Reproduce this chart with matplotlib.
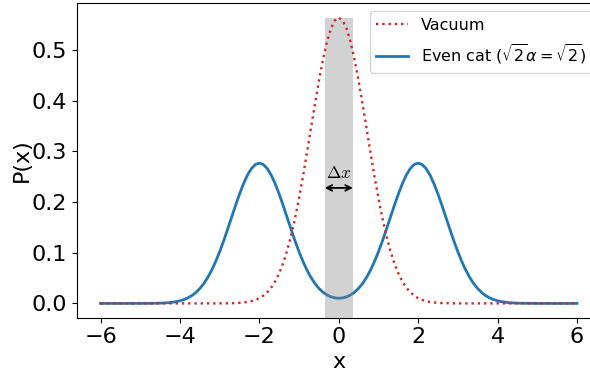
import matplotlib
matplotlib.use("Agg")
import matplotlib.pyplot as plt

# x grid (step 0.1 from -6 to 6)
x_vals = [round(-6 + 0.1 * i, 1) for i in range(121)]

# half profiles for x = 0.0, 0.1, ..., 6.0 (both curves are symmetric)
vacuum_half = [0.5642, 0.5586, 0.5421, 0.5156, 0.4808, 0.4394, 0.3936, 0.3456,
               0.2975, 0.2510, 0.2076, 0.1682, 0.1337, 0.1041, 0.0795, 0.0595,
               0.0436, 0.0314, 0.0221, 0.0153, 0.0103, 0.0069, 0.0045, 0.0028,
               0.0018, 0.0011, 0.0007, 0.0004, 0.0002, 0.0001, 0.0001,
               0, 0, 0, 0, 0, 0, 0, 0, 0, 0,
               0, 0, 0, 0, 0, 0, 0, 0, 0, 0,
               0, 0, 0, 0, 0, 0, 0, 0, 0, 0]
cat_half = [0.0102, 0.0109, 0.0130, 0.0168, 0.0223, 0.0297, 0.0393, 0.0513,
            0.0657, 0.0827, 0.1019, 0.1232, 0.1461, 0.1697, 0.1933, 0.2157,
            0.2360, 0.2532, 0.2661, 0.2742, 0.2770, 0.2742, 0.2661, 0.2532,
            0.2360, 0.2157, 0.1933, 0.1697, 0.1461, 0.1232, 0.1019, 0.0826,
            0.0656, 0.0511, 0.0390, 0.0292, 0.0214, 0.0154, 0.0109, 0.0075,
            0.0051, 0.0034, 0.0022, 0.0014, 0.0009, 0.0005, 0.0003, 0.0002,
            0.0001, 0.0001, 0.0000,
            0, 0, 0, 0, 0, 0, 0, 0, 0, 0]

vacuum = vacuum_half[:0:-1] + vacuum_half
cat = cat_half[:0:-1] + cat_half

band_half_width = 0.355
band_top = 0.5642

x_ticks = [-6, -4, -2, 0, 2, 4, 6]
y_ticks = [0.0, 0.1, 0.2, 0.3, 0.4, 0.5]

fig = plt.figure(figsize=(5.90, 3.72), dpi=100)
ax = fig.add_axes([0.130, 0.146, 0.8883, 0.845])

ax.plot(x_vals, cat, color='#1f77b4', lw=2.0, zorder=2,
        label=r'Even cat ($\sqrt{2}\alpha=\sqrt{2}$)')
ax.plot(x_vals, vacuum, color='#d62728', lw=1.7, ls=':', zorder=4,
        label='Vacuum')

ylo, yhi = -0.0282, 0.5924
ax.set_ylim(ylo, yhi)
ax.set_xlim(-6.6, 6.6)
ax.axvspan(-band_half_width, band_half_width, ymin=0,
           ymax=(band_top - ylo) / (yhi - ylo), color='gray', alpha=0.35,
           lw=0, zorder=3)

ax.annotate('', xy=(-band_half_width, 0.228), xytext=(band_half_width, 0.228),
            arrowprops=dict(arrowstyle='<->', color='black', lw=1.3,
                            shrinkA=0, shrinkB=0), zorder=5)
ax.text(0.0, 0.247, r'$\Delta x$', ha='center', va='baseline', fontsize=12.5,
        math_fontfamily='cm', zorder=5)

ax.set_xticks(x_ticks)
ax.set_yticks(y_ticks)
ax.tick_params(labelsize=16)
ax.set_xlabel('x', fontsize=16, labelpad=3)
ax.set_ylabel('P(x)', fontsize=16, labelpad=0)

handles, labels = ax.get_legend_handles_labels()
ax.legend(handles[::-1], labels[::-1], loc='upper right', fontsize=11.5,
          labelspacing=0.6)

fig.savefig('out.png', dpi=100)
